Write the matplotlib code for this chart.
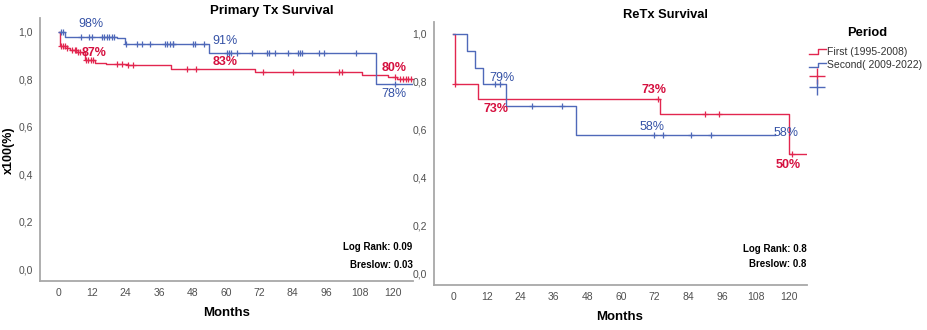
import numpy as np
import matplotlib.pyplot as plt
from matplotlib.lines import Line2D

plt.rcParams['font.family'] = ['Liberation Sans', 'DejaVu Sans']

RED = '#e2264f'
BLUE = '#4f69b9'
RED_TXT = '#d5103f'
BLUE_TXT = '#3552a6'

# Primary Tx survival: step times (months), survival after each step, censored times
prim_first_t = [0, 0.3, 2.8, 4.0, 6.3, 9.3, 12.9, 17.0, 24.9, 40.1, 70.4, 108.7, 118.3, 121.3]
prim_first_s = [1.0, 0.942, 0.931, 0.924, 0.914, 0.88, 0.87, 0.866, 0.86, 0.843, 0.83, 0.819, 0.809, 0.80]
prim_first_cens = [0.7, 1.3, 2.2, 2.8, 4.6, 5.7, 6.1, 6.7, 7.5, 9.7, 10.5, 11.7, 12.3,
                   20.7, 22.5, 24.9, 26.7, 45.9, 49.2, 73.4, 84.2, 100.7, 101.6,
                   120.7, 122.5, 123.7, 124.7, 125.5, 126.5]
prim_first_end = 127

prim_second_t = [0, 2.3, 20.7, 23.7, 54.0, 113.9]
prim_second_s = [1.0, 0.98, 0.973, 0.949, 0.91, 0.78]
prim_second_cens = [0.7, 1.5, 7.8, 10.8, 12.0, 15.3, 16.3, 17.1, 17.9, 18.9, 19.8,
                    24.1, 27.9, 29.9, 32.7, 38.1, 38.9, 39.9, 40.9, 41.1, 48.0, 48.9, 52.1,
                    60.3, 61.0, 61.7, 64.1, 69.5, 74.6, 75.3, 77.6, 82.4, 85.8, 86.6, 87.4,
                    93.5, 95.2, 106.7, 120.7]
prim_second_end = 127

# ReTx survival
re_first_t = [0, 0.7, 8.8, 73.9, 119.8]
re_first_s = [1.0, 0.79, 0.73, 0.665, 0.50]
re_first_cens = [0.7, 73.3, 90.0, 95.0, 121.0]
re_first_end = 126.4

re_second_t = [0, 4.9, 7.9, 10.8, 18.9, 43.8]
re_second_s = [1.0, 0.929, 0.857, 0.79, 0.70, 0.58]
re_second_cens = [15.0, 16.8, 28.1, 39.0, 71.9, 74.9, 84.9, 92.0]
re_second_end = 115

month_ticks = np.arange(0, 121, 12)
surv_ticks = [0.0, 0.2, 0.4, 0.6, 0.8, 1.0]


def km(ax, t, s, cens, end, color):
    t = np.array(t)
    s = np.array(s)
    ax.step(np.append(t, end), np.append(s, s[-1]), where='post', color=color, lw=1.0)
    idx = np.searchsorted(t, cens, side='right') - 1
    ax.plot(cens, s[idx], ls='none', marker='+', ms=5, mew=0.9, color=color)


def style(ax, xlim, ylim):
    ax.set_xlim(*xlim)
    ax.set_ylim(*ylim)
    ax.set_xticks(month_ticks)
    ax.set_yticks(surv_ticks)
    ax.set_yticklabels([f"{v:.1f}".replace('.', ',') for v in surv_ticks])
    ax.tick_params(length=0, labelsize=7.5, labelcolor='#505050', pad=5)
    for sp in ['top', 'right']:
        ax.spines[sp].set_visible(False)
    for sp in ['left', 'bottom']:
        ax.spines[sp].set_color('#a8a8a8')
        ax.spines[sp].set_linewidth(1.3)


def pct(v):
    return f"{round(v * 100)}%"


fig = plt.figure(figsize=(9.27, 3.3), dpi=100)
W, H = 927, 330

ax1 = fig.add_axes([40 / W, 1 - 281 / H, 373 / W, 263 / H])
km(ax1, prim_first_t, prim_first_s, prim_first_cens, prim_first_end, RED)
km(ax1, prim_second_t, prim_second_s, prim_second_cens, prim_second_end, BLUE)
style(ax1, (-6.8, 127.2), (-0.0506, 1.059))

bk = dict(ha='center', va='center', fontsize=9, color=BLUE_TXT)
rk = dict(ha='center', va='center', fontsize=9, color=RED_TXT, fontweight='bold')
ax1.text(11.4, 1.034, pct(prim_second_s[1]), **bk)
ax1.text(12.5, 0.913, pct(prim_first_s[6]), **rk)
ax1.text(59.7, 0.96, pct(prim_second_s[4]), **bk)
ax1.text(59.8, 0.875, pct(prim_first_s[10]), **rk)
ax1.text(120.5, 0.85, pct(prim_first_s[-1]), **rk)
ax1.text(120.5, 0.737, pct(prim_second_s[-1]), **bk)
ax1.text(127.0, 0.094, 'Log Rank: 0.09', ha='right', va='center', fontsize=7, fontweight='bold')
ax1.text(127.0, 0.017, 'Breslow: 0.03', ha='right', va='center', fontsize=7, fontweight='bold')

ax2 = fig.add_axes([434 / W, 1 - 285 / H, 373 / W, 263 / H])
km(ax2, re_first_t, re_first_s, re_first_cens, re_first_end, RED)
km(ax2, re_second_t, re_second_s, re_second_cens, re_second_end, BLUE)
style(ax2, (-6.8, 126.4), (-0.046, 1.05))

ax2.text(17.3, 0.815, pct(re_second_s[3]), **bk)
ax2.text(15.2, 0.6875, pct(re_first_s[2]), **rk)
ax2.text(71.6, 0.767, pct(re_first_s[2]), **rk)
ax2.text(71.1, 0.614, pct(re_second_s[-1]), **bk)
ax2.text(118.9, 0.589, pct(re_second_s[-1]), **bk)
ax2.text(119.8, 0.454, pct(re_first_s[-1]), **rk)
ax2.text(126.3, 0.104, 'Log Rank: 0.8', ha='right', va='center', fontsize=7, fontweight='bold')
ax2.text(126.3, 0.04, 'Breslow: 0.8', ha='right', va='center', fontsize=7, fontweight='bold')

# titles and axis labels
fig.text(272 / W, 1 - 11 / H, 'Primary Tx Survival', ha='center', va='center', fontsize=9.5, fontweight='bold')
fig.text(665 / W, 1 - 15 / H, 'ReTx Survival', ha='center', va='center', fontsize=9.3, fontweight='bold')
fig.text(227 / W, 1 - 313 / H, 'Months', ha='center', va='center', fontsize=9.5, fontweight='bold')
fig.text(620 / W, 1 - 317 / H, 'Months', ha='center', va='center', fontsize=9.5, fontweight='bold')
fig.text(9 / W, 1 - 150 / H, 'x100(%)', ha='center', va='center', rotation=90, fontsize=9, fontweight='bold')

# legend
fig.text(867 / W, 1 - 33 / H, 'Period', ha='center', va='center', fontsize=9.3, fontweight='bold')
entries = [('First (1995-2008)', RED), ('Second( 2009-2022)', BLUE)]
for i, (lab, col) in enumerate(entries):
    yc = 52 + i * 13.5
    xs = np.array([809, 818, 818, 826]) / W
    ys = 1 - np.array([yc + 1.5, yc + 1.5, yc - 3, yc - 3]) / H
    fig.add_artist(Line2D(xs, ys, color=col, lw=1.0, transform=fig.transFigure))
    fig.text(827 / W, 1 - yc / H, lab, ha='left', va='center', fontsize=7.5, color='#333333')
for i, col in enumerate([RED, BLUE]):
    yc = 76 + i * 10.5
    fig.add_artist(Line2D([817 / W], [1 - yc / H], marker='+', ms=11, mew=1.0, color=col,
                          transform=fig.transFigure))

fig.savefig('out.png', dpi=100)
